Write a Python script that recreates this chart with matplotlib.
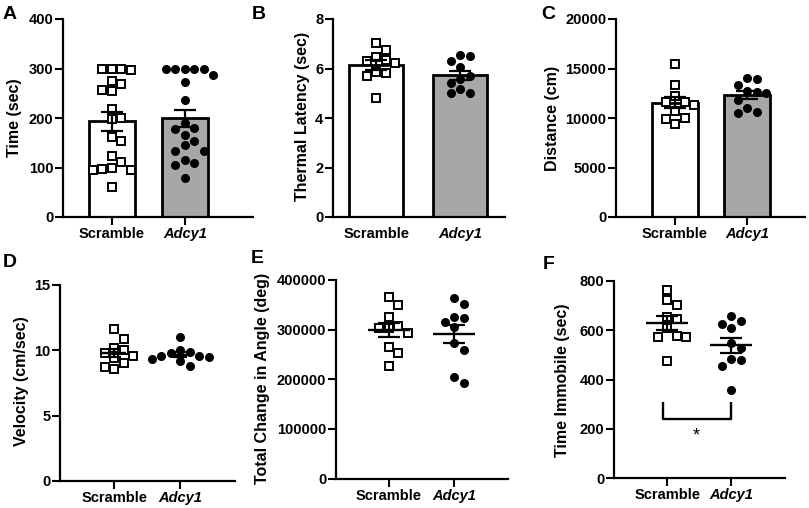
import numpy as np
import matplotlib
matplotlib.use("Agg")
import matplotlib.pyplot as plt

plt.rcParams["font.family"] = ["Liberation Sans", "DejaVu Sans"]
plt.rcParams["font.weight"] = "bold"
plt.rcParams["axes.labelweight"] = "bold"

groups = ["Scramble", "Adcy1"]

# A - time (sec)
a_scr = [300, 300, 296, 300, 268, 274, 254, 257, 218, 200,
         197, 161, 154, 123, 111, 95, 99, 95, 96, 61]
a_adc = [300, 300, 300, 300, 300, 286, 272, 236, 189, 180,
         178, 166, 153, 146, 134, 134, 116, 109, 106, 79]
# B - thermal latency (sec)
b_scr = [6.30, 6.75, 7.02, 6.45, 6.24, 6.34, 5.80, 5.70, 5.87, 4.82]
b_adc = [6.55, 6.50, 6.30, 6.05, 5.70, 5.56, 5.40, 5.00, 5.17, 5.02]
# C - distance (cm)
c_scr = [15420, 13330, 11650, 10710, 9400, 9970, 12220, 11310, 9870, 11650]
c_adc = [13330, 14000, 13900, 12660, 12760, 12560, 11820, 10470, 10980, 10640]
# D - velocity (cm/sec)
d_scr = [11.6, 10.9, 10.2, 10.0, 9.8, 9.6, 9.4, 9.0, 8.7, 8.6]
d_adc = [11.0, 10.0, 9.9, 9.8, 9.6, 9.6, 9.5, 9.3, 9.2, 8.8]
# E - total change in angle (deg)
e_scr = [366000, 350000, 326000, 307000, 303000, 293000, 304000, 264000, 252000, 227000]
e_adc = [363000, 351000, 315000, 326000, 324000, 306000, 274000, 259000, 205000, 192000]
# F - time immobile (sec)
f_scr = [763, 723, 702, 655, 644, 608, 578, 574, 571, 476]
f_adc = [639, 659, 610, 625, 549, 527, 483, 479, 455, 357]

GRAY = "#a7a7a9"
W, H = 809, 508
fig = plt.figure(figsize=(W / 100, H / 100), dpi=100)


def make_ax(left, top, right, bottom):
    # pixel box -> figure fraction
    return fig.add_axes([left / W, 1 - bottom / H, (right - left) / W, (bottom - top) / H])


def swarm(ax, x0, vals, d=9.5):
    # greedy beeswarm in pixel space, returns x positions in data units
    vals = np.asarray(vals, dtype=float)
    pts = ax.transData.transform(np.column_stack([np.full(len(vals), x0), vals]))
    ys = pts[:, 1]
    sx = ax.transData.transform([[1, 0]])[0, 0] - ax.transData.transform([[0, 0]])[0, 0]
    cands = [0]
    for n in range(1, 20):
        cands += [n, -n]
    placed = []
    offs = np.zeros(len(vals))
    for i in np.argsort(-vals, kind="stable"):
        for c in cands:
            ok = True
            for px, py in placed:
                if abs(c * d - px) < d - 0.01 and abs(ys[i] - py) < d - 0.01:
                    ok = False
                    break
            if ok:
                break
        placed.append((c * d, ys[i]))
        offs[i] = c * d
    return x0 + offs / sx


def style(ax, xlim, yticks, ylabel, label_x, label_y, xtick_len=5.5):
    ax.set_xlim(*xlim)
    ax.set_ylim(yticks[0], yticks[-1])
    ax.set_yticks(yticks)
    ax.set_yticklabels([f"{t:g}" for t in yticks])
    ax.set_xticks([0, 1])
    ax.set_xticklabels(groups)
    ax.get_xticklabels()[1].set_style("italic")
    for s in ["top", "right"]:
        ax.spines[s].set_visible(False)
    for s in ["left", "bottom"]:
        ax.spines[s].set_linewidth(1.6)
    ax.tick_params(axis="y", length=5.5, width=1.5, pad=1.5, labelsize=10.5)
    ax.tick_params(axis="x", length=xtick_len, width=1.5,
                   pad=2 + 5.5 - xtick_len, labelsize=10.5)
    fig.text(label_x / W, 1 - label_y / H, ylabel, rotation=90, ha="center",
             va="center", fontsize=11.5, fontweight="bold")


def bar_panel(ax, scr, adc):
    means = [np.mean(scr), np.mean(adc)]
    sems = [np.std(scr, ddof=1) / np.sqrt(len(scr)), np.std(adc, ddof=1) / np.sqrt(len(adc))]
    ax.bar([0, 1], means, width=0.64, color=["white", GRAY], edgecolor="black",
           linewidth=2.0, zorder=1)
    ax.plot(swarm(ax, 0, scr), scr, "s", ms=5.3, mfc="white", mec="black", mew=1.4,
            zorder=3, clip_on=False)
    ax.plot(swarm(ax, 1, adc), adc, "o", ms=6.5, mfc="black", mec="black", mew=0,
            zorder=3, clip_on=False)
    ax.errorbar([0, 1], means, yerr=sems, fmt="none", ecolor="black", elinewidth=1.6,
                capsize=8, capthick=1.6, zorder=4)


def dot_panel(ax, scr, adc, half=0.33, cap=8):
    ax.plot(swarm(ax, 0, scr), scr, "s", ms=5.3, mfc="white", mec="black", mew=1.4,
            zorder=3, clip_on=False)
    ax.plot(swarm(ax, 1, adc), adc, "o", ms=6.5, mfc="black", mec="black", mew=0,
            zorder=3, clip_on=False)
    for x, v in [(0, scr), (1, adc)]:
        m = np.mean(v)
        se = np.std(v, ddof=1) / np.sqrt(len(v))
        ax.hlines(m, x - half, x + half, color="black", lw=1.7, zorder=4)
        ax.errorbar([x], [m], yerr=[se], fmt="none", ecolor="black", elinewidth=1.6,
                    capsize=cap, capthick=1.6, zorder=4)


# A
ax = make_ax(63, 19, 253, 217)
style(ax, (-0.671, 1.932), [0, 100, 200, 300, 400], "Time (sec)", 15, 118)
bar_panel(ax, a_scr, a_adc)

# B
ax = make_ax(333, 19, 505, 217)
style(ax, (-0.514, 1.53), [0, 2, 4, 6, 8], "Thermal Latency (sec)", 303, 116, xtick_len=0)
bar_panel(ax, b_scr, b_adc)

# C
ax = make_ax(616, 19, 805, 217)
style(ax, (-0.82, 1.805), [0, 5000, 10000, 15000, 20000], "Distance (cm)", 552, 118)
bar_panel(ax, c_scr, c_adc)

# D
ax = make_ax(60, 285, 235, 481)
style(ax, (-0.82, 1.83), [0, 5, 10, 15], "Velocity (cm/sec)", 22, 381)
dot_panel(ax, d_scr, d_adc, half=0.18, cap=5)

# E
ax = make_ax(336, 280, 508, 478.5)
style(ax, (-0.815, 1.83), [0, 100000, 200000, 300000, 400000],
      "Total Change in Angle (deg)", 263, 378)
dot_panel(ax, e_scr, e_adc)

# F
ax = make_ax(614, 281, 785, 478)
style(ax, (-0.83, 1.84), [0, 200, 400, 600, 800], "Time Immobile (sec)", 563, 380)
dot_panel(ax, f_scr, f_adc)
ax.plot([-0.07, -0.07, 1.0, 1.0], [309, 240, 240, 309], color="black", lw=1.7,
        solid_capstyle="butt")
ax.text(0.46, 172, "*", ha="center", va="center", fontsize=13, fontweight="normal")

# panel letters
for letter, x, y in [("A", 3, 6), ("B", 252, 6), ("C", 541, 6),
                     ("D", 3, 254), ("E", 251, 250), ("F", 543, 256)]:
    fig.text(x / W, 1 - y / H, letter, ha="left", va="top", fontsize=14,
             fontweight="bold")

fig.savefig("out.png", dpi=100)
